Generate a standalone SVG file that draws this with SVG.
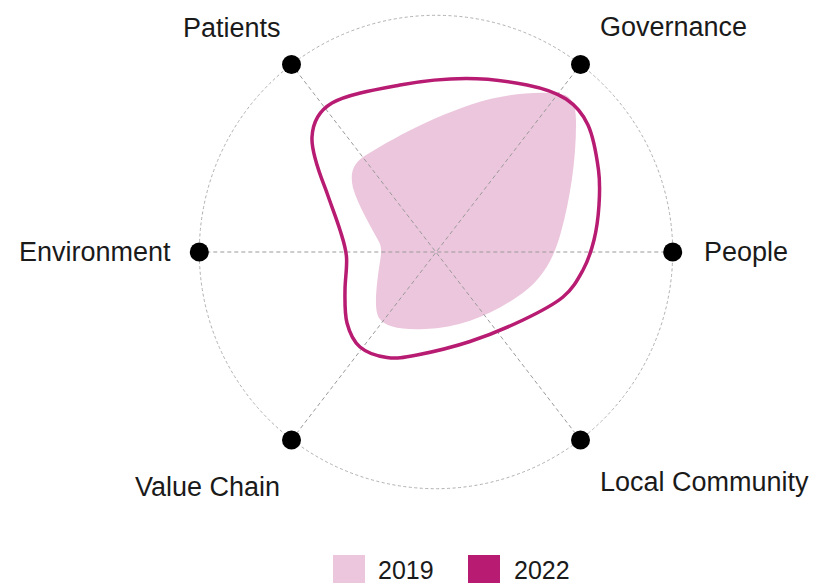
<svg xmlns="http://www.w3.org/2000/svg" width="818" height="583" viewBox="0 0 818 583">
<style>
.lbl{font-family:"Liberation Sans",Arial,sans-serif;font-size:27px;fill:#1a1a1a}
.leg{font-family:"Liberation Sans",Arial,sans-serif;font-size:25px;fill:#1a1a1a}
.spoke{stroke:#9a9a9a;stroke-width:1;stroke-dasharray:4 3;fill:none}
.ring{stroke:#b0b0b0;stroke-width:1;stroke-dasharray:3 2.5;fill:none}
.dot{fill:#000}
.s2019{fill:#ecc6dc}
.s2022{fill:none;stroke:#b81b72;stroke-width:3.5;stroke-linejoin:round}
</style>
<rect width="818" height="583" fill="#fff"/>
<circle class="ring" cx="436" cy="252" r="236.7"/>
<path id="series-2019" class="s2019" d="M363,157 C390,140 440,112 490,99 C520,92 550,91 565,95 C575,100 576,110 576,125 C576,160 570,200 561,232 C553,262 540,282 517,297 C490,315 460,328 425,329 C400,330 385,327 379,318 C374,310 376,290 379,268 C381,255 383,248 378,240 C370,225 358,205 353,188 C350,175 352,165 363,157 Z"/>
<g id="connectors">
<line class="spoke" x1="291.5" y1="64.5" x2="580.5" y2="440"/>
<line class="spoke" x1="580.5" y1="64.5" x2="291.5" y2="440"/>
<line class="spoke" x1="199.3" y1="252" x2="672.7" y2="252"/>
</g>
<path id="series-2022" class="s2022" d="M312,137 C313,119 321,109.5 332,103 C346.5,94.3 377.7,89.1 400,85 C422.3,80.9 444.8,78.5 466,78.5 C487.2,78.5 510.3,81.6 527,85 C543.7,88.4 555.8,92.3 566,99 C576.2,105.7 582.6,113.2 588,125 C593.4,136.8 596.7,156.7 598.5,170 C600.3,183.3 599.75,193.3 599,205 C598.25,216.7 596.7,229.2 594,240 C591.3,250.8 588.2,260.5 583,270 C577.8,279.5 573,288.7 563,297 C553,305.3 538.5,312.6 523,320 C507.5,327.4 487.7,335.7 470,341.5 C452.3,347.3 430.8,352.3 417,355 C403.2,357.7 396.5,358.8 387,357.5 C377.5,356.2 366.7,352.75 360,347 C353.3,341.25 349.5,332.5 347,323 C344.5,313.5 344.9,301 345,290 C345.1,279 347.3,267 346.5,257 C345.7,247 343.25,240.7 340,230 C336.75,219.3 331.2,205.2 327,193 C323.5,183 311,155 312,137 Z"/>
<g id="node-patients"><circle class="dot" cx="291.5" cy="64.5" r="9.5"/><text class="lbl" x="183" y="37">Patients</text></g>
<g id="node-governance"><circle class="dot" cx="580.5" cy="64.5" r="9.5"/><text class="lbl" x="600" y="36">Governance</text></g>
<g id="node-environment"><circle class="dot" cx="199.3" cy="252" r="9.5"/><text class="lbl" x="19" y="261">Environment</text></g>
<g id="node-people"><circle class="dot" cx="672.7" cy="252" r="9.5"/><text class="lbl" x="704" y="261">People</text></g>
<g id="node-value-chain"><circle class="dot" cx="291.5" cy="440" r="9.5"/><text class="lbl" x="135" y="496">Value Chain</text></g>
<g id="node-local-community"><circle class="dot" cx="580.5" cy="440" r="9.5"/><text class="lbl" x="600" y="491">Local Community</text></g>
<g id="legend">
<rect x="333" y="555" width="32" height="32" fill="#ecc6dc"/>
<text class="leg" x="378" y="579">2019</text>
<rect x="468" y="555" width="32" height="32" fill="#b81b72"/>
<text class="leg" x="514" y="579">2022</text>
</g>
</svg>
